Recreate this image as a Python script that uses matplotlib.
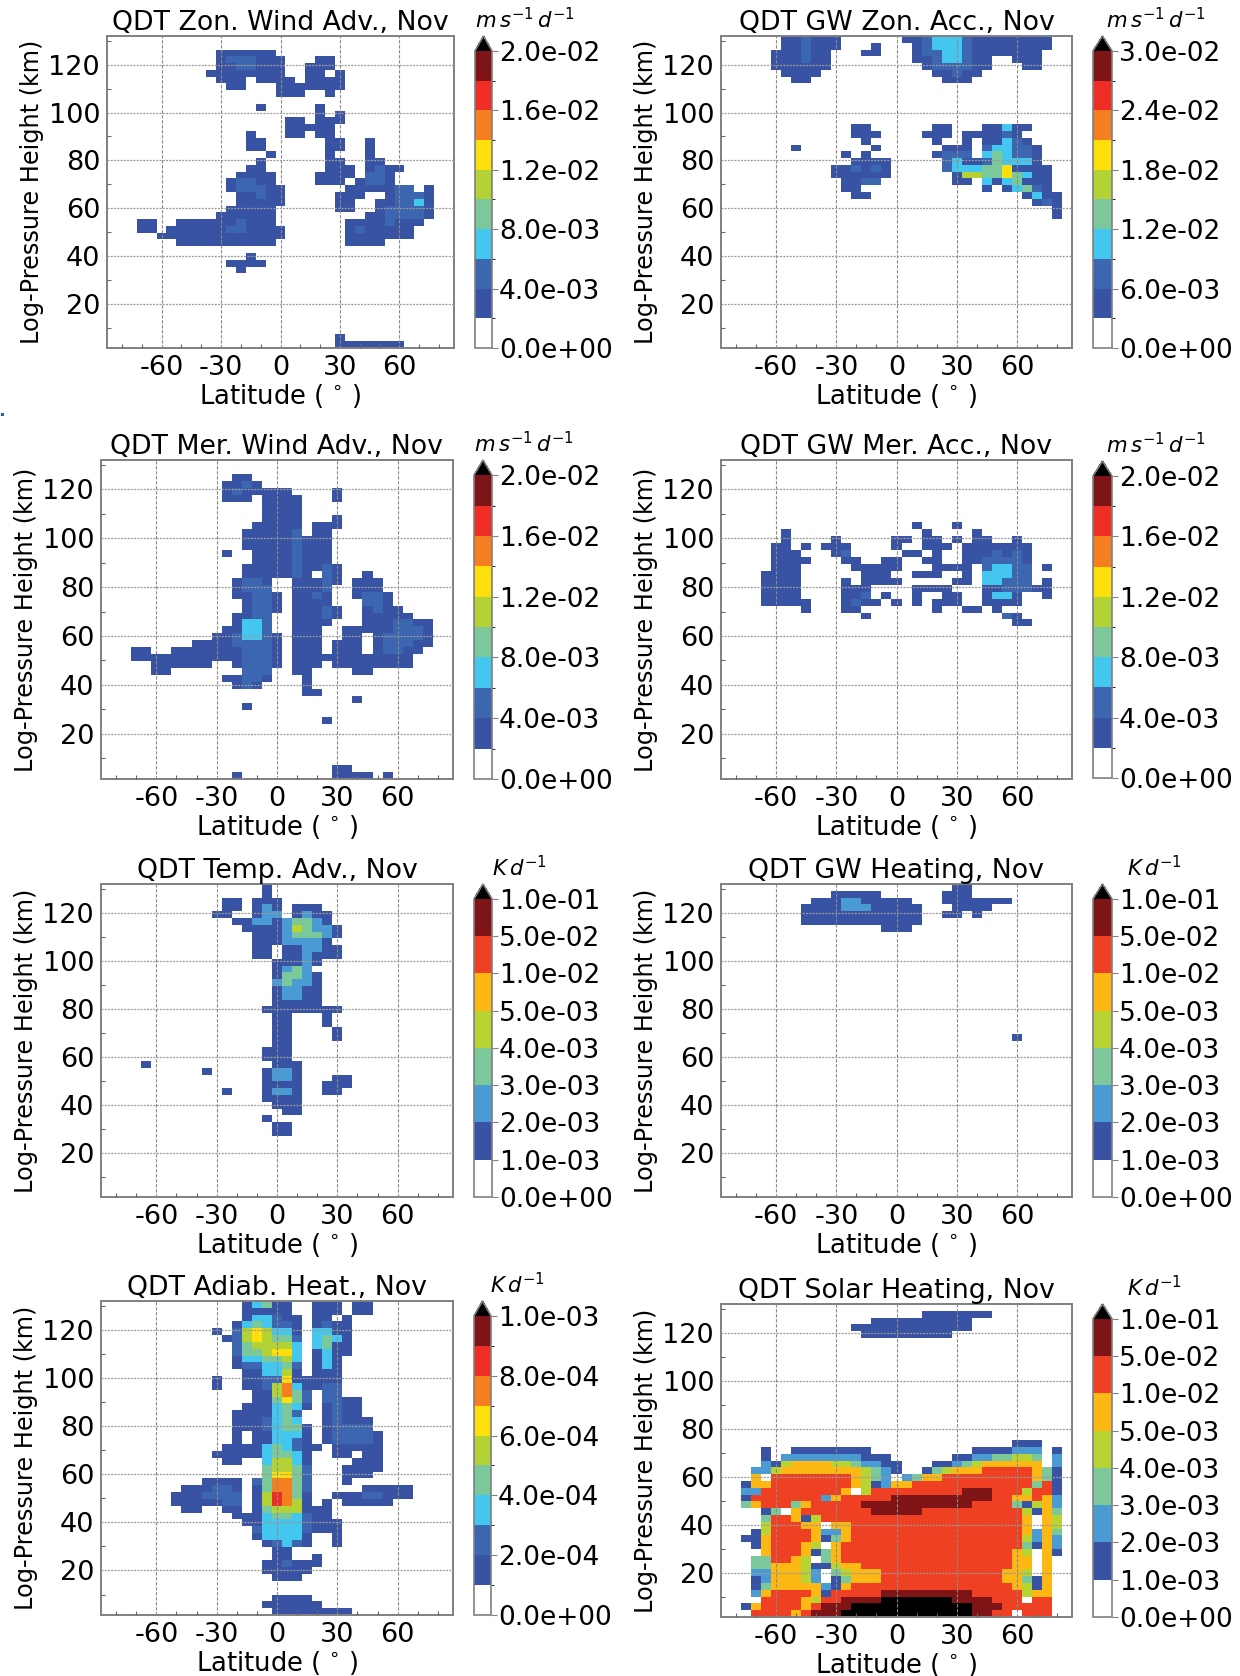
import numpy as np
import matplotlib
matplotlib.use('Agg')
import matplotlib.pyplot as plt
from matplotlib.colors import ListedColormap, BoundaryNorm

W, H = 1240, 1676
plt.rcParams['axes.unicode_minus'] = False

# grid of the model output: cell centres every 5 deg, 46 height rows (row 0 on top)
lat_edges = np.arange(-87.5, 88, 5)
height_edges = np.linspace(132, 1.5, 47)

xticks = [-60, -30, 0, 30, 60]
yticks = [20, 40, 60, 80, 100, 120]

bounds_wind = [i * 2e-3 for i in range(11)]
bounds_gwzon = [i * 3e-3 for i in range(11)]
bounds_heat = [0, 1e-3, 2e-3, 3e-3, 4e-3, 5e-3, 1e-2, 5e-2, 1e-1]
bounds_adiab = [i * 1e-4 for i in range(11)]

colors_10 = ['#ffffff', '#3953a4', '#3c66b0', '#44c7ee', '#7bc89a', '#b2d235',
             '#fde00b', '#f57f20', '#ee2e24', '#7f1416']
colors_8 = ['#ffffff', '#3953a4', '#4a9bd4', '#7bc89a', '#b8d433', '#fdb813',
            '#f04023', '#7f1416']

# row: (lat from, lat to, level); later spans overwrite earlier ones
zon_adv = {
    2: [(-30, -5, 1)],
    3: [(-30, 0, 1), (-25, -15, 2), (20, 25, 1)],
    4: [(-30, 0, 1), (-20, -15, 2), (15, 25, 1)],
    5: [(-35, 0, 1), (15, 20, 1), (30, 30, 1)],
    6: [(-30, -20, 1), (-10, 5, 1), (15, 30, 1)],
    7: [(-25, -20, 1), (0, 30, 1)],
    8: [(0, 10, 1), (25, 25, 1)],
    10: [(-10, -10, 1), (20, 20, 1)],
    11: [(20, 20, 1), (30, 30, 1)],
    12: [(5, 10, 1), (20, 30, 1)],
    13: [(5, 25, 1)],
    14: [(-15, -15, 1), (5, 10, 1), (20, 25, 1)],
    15: [(-15, -10, 1), (25, 30, 1), (45, 45, 1)],
    16: [(-15, -10, 1), (25, 30, 1), (45, 45, 1)],
    17: [(-5, -5, 1), (25, 25, 1), (45, 45, 1)],
    18: [(-10, -10, 1), (25, 30, 1), (45, 50, 1)],
    19: [(-15, -10, 1), (25, 35, 1), (45, 60, 1), (50, 50, 2)],
    20: [(-20, -5, 1), (20, 35, 1), (45, 55, 1), (45, 50, 2)],
    21: [(-25, -5, 1), (-20, -15, 2), (20, 30, 1), (40, 55, 1), (45, 50, 2)],
    22: [(-25, 0, 1), (-20, -10, 2), (35, 55, 1), (60, 65, 2), (75, 75, 1)],
    23: [(-20, 0, 1), (-10, -10, 2), (30, 40, 1), (55, 75, 1), (60, 70, 2)],
    24: [(-20, 0, 1), (30, 35, 1), (50, 75, 1), (60, 65, 2), (70, 70, 3)],
    25: [(-25, -5, 1), (30, 35, 1), (50, 75, 1), (55, 70, 2)],
    26: [(-30, -5, 1), (45, 75, 1), (55, 70, 2)],
    27: [(-70, -65, 1), (-50, -5, 1), (-20, -20, 2), (35, 70, 1), (55, 55, 2)],
    28: [(-70, -65, 1), (-55, 0, 1), (-25, -20, 2), (35, 65, 1), (40, 40, 2)],
    29: [(-60, 0, 1), (35, 65, 1)],
    30: [(-50, -5, 1), (35, 50, 1)],
    32: [(-15, -15, 1)],
    33: [(-25, -10, 1)],
    34: [(-20, -20, 1)],
    44: [(30, 30, 1)],
    45: [(30, 60, 1)],
}

gw_zon = {
    0: [(-55, -30, 1), (-45, -45, 2), (5, 75, 1), (15, 15, 2), (20, 30, 3), (35, 35, 2)],
    1: [(-55, -30, 1), (-45, -45, 2), (-10, -10, 1), (10, 75, 1), (15, 15, 2), (20, 30, 3), (35, 35, 2)],
    2: [(-60, -35, 1), (-45, -45, 2), (-15, -10, 1), (10, 70, 1), (15, 20, 2), (25, 30, 3), (35, 35, 2)],
    3: [(-60, -35, 1), (-45, -45, 2), (10, 45, 1), (60, 70, 1), (20, 20, 2), (25, 30, 3), (35, 35, 2)],
    4: [(-60, -35, 1), (15, 45, 1), (65, 70, 1), (20, 35, 2)],
    5: [(-55, -40, 1), (20, 40, 1), (30, 30, 2)],
    6: [(-50, -45, 1), (25, 35, 1)],
    13: [(-20, -15, 1), (20, 25, 1), (45, 65, 1), (55, 55, 3)],
    14: [(-20, -10, 1), (15, 25, 1), (35, 60, 1), (55, 55, 2)],
    15: [(-15, -15, 1), (20, 20, 1), (35, 35, 1), (45, 65, 1), (55, 55, 3), (60, 60, 2)],
    16: [(-50, -50, 1), (-10, -10, 1), (25, 35, 1), (45, 70, 1), (45, 45, 2), (50, 55, 3), (60, 65, 2)],
    17: [(-25, -25, 1), (-15, -15, 1), (20, 35, 1), (25, 35, 2), (45, 45, 3), (50, 50, 4), (55, 55, 3), (60, 65, 2), (70, 70, 1)],
    18: [(-20, -5, 1), (25, 25, 2), (30, 30, 3), (35, 40, 1), (45, 45, 2), (50, 50, 4), (55, 65, 3), (70, 70, 1)],
    19: [(-30, -5, 1), (-20, -20, 2), (-10, -10, 2), (25, 25, 2), (30, 40, 3), (45, 50, 4), (55, 55, 6), (60, 75, 1)],
    20: [(-30, -5, 1), (30, 30, 1), (35, 40, 5), (45, 50, 4), (55, 55, 6), (60, 60, 4), (65, 65, 3), (70, 75, 1)],
    21: [(-25, -10, 1), (-15, -10, 2), (30, 35, 1), (45, 45, 3), (50, 50, 1), (55, 55, 3), (60, 60, 4), (65, 75, 1)],
    22: [(-25, -20, 1), (45, 45, 1), (55, 55, 1), (60, 60, 3), (65, 65, 4), (70, 70, 2), (75, 75, 1)],
    23: [(-20, -15, 1), (65, 65, 1), (70, 70, 3), (75, 80, 1)],
    24: [(70, 80, 1), (75, 75, 2)],
    25: [(80, 80, 1)],
    26: [(80, 80, 1)],
}

mer_adv = {
    2: [(-20, -15, 1)],
    3: [(-25, -10, 1), (-15, -15, 2)],
    4: [(-25, 5, 1), (-20, -20, 2), (30, 30, 1)],
    5: [(-25, -15, 1), (-5, 10, 1), (30, 30, 1)],
    6: [(-5, 10, 1)],
    7: [(-5, 10, 1)],
    8: [(-5, 10, 1), (30, 30, 1)],
    9: [(-10, 10, 1), (20, 30, 1)],
    10: [(-15, 10, 1), (10, 10, 2), (20, 25, 1)],
    11: [(-15, 25, 1), (10, 10, 2)],
    12: [(-15, 25, 1), (10, 10, 2)],
    13: [(-25, -25, 1), (-10, 25, 1), (10, 10, 2)],
    14: [(-10, 25, 1), (10, 10, 2)],
    15: [(-15, 30, 1), (10, 10, 2), (25, 25, 2)],
    16: [(-15, 15, 1), (10, 10, 2), (25, 30, 1), (25, 25, 2), (45, 45, 1)],
    17: [(-20, -5, 1), (-15, -10, 2), (10, 30, 1), (25, 25, 2), (40, 50, 1)],
    18: [(-20, -5, 1), (-15, -5, 2), (10, 25, 1), (25, 25, 2), (40, 50, 1)],
    19: [(-20, 0, 1), (-10, -5, 2), (10, 25, 1), (20, 20, 2), (40, 55, 1), (45, 50, 2)],
    20: [(-15, 0, 1), (-10, -5, 2), (10, 25, 1), (45, 55, 1), (45, 50, 2)],
    21: [(-15, 0, 1), (-10, -5, 2), (10, 30, 1), (25, 25, 2), (45, 60, 1), (50, 50, 2)],
    22: [(-20, -5, 1), (-10, -5, 2), (10, 30, 1), (25, 25, 2), (45, 65, 1)],
    23: [(-20, -5, 1), (-15, -10, 3), (-5, -5, 2), (10, 25, 1), (45, 75, 1), (60, 65, 2)],
    24: [(-25, -5, 1), (-15, -10, 3), (-5, -5, 2), (10, 20, 1), (35, 75, 1), (60, 70, 2)],
    25: [(-30, 0, 1), (-20, -20, 2), (-15, -10, 3), (-5, -5, 2), (10, 20, 1), (35, 40, 1), (50, 75, 1), (55, 70, 2)],
    26: [(-40, 0, 1), (-20, -5, 2), (10, 20, 1), (30, 40, 1), (50, 75, 1), (55, 65, 2)],
    27: [(-70, -65, 1), (-50, 0, 1), (-15, -5, 2), (10, 20, 1), (30, 40, 1), (50, 70, 1), (55, 60, 2)],
    28: [(-70, 0, 1), (-15, -5, 2), (10, 65, 1)],
    29: [(-60, -35, 1), (-20, 0, 1), (-15, -5, 2), (10, 20, 1), (30, 65, 1)],
    30: [(-60, -55, 1), (-15, -5, 2), (10, 15, 1), (40, 45, 1)],
    31: [(-25, -5, 1), (-15, -10, 2), (15, 15, 1)],
    32: [(-20, -10, 1), (-15, -15, 2), (15, 15, 1)],
    33: [(15, 20, 1)],
    34: [(40, 40, 1)],
    35: [(-15, -15, 1)],
    37: [(25, 25, 1)],
    44: [(30, 35, 1)],
    45: [(-20, -20, 1), (30, 45, 1), (55, 55, 1)],
}

gw_mer = {
    9: [(10, 10, 1), (30, 30, 1)],
    10: [(-55, -55, 1), (15, 15, 1), (40, 40, 1)],
    11: [(-55, -55, 1), (-30, -30, 1), (0, 5, 1), (15, 20, 1), (30, 30, 1), (40, 45, 1), (60, 60, 1)],
    12: [(-60, -55, 1), (-45, -45, 1), (-35, -25, 1), (0, 0, 1), (15, 25, 1), (35, 65, 1)],
    13: [(-60, -50, 1), (-30, -25, 1), (-25, -25, 2), (5, 10, 1), (20, 20, 1), (35, 65, 1), (50, 50, 2), (60, 60, 2)],
    14: [(-60, -45, 1), (-25, -20, 1), (-5, 0, 1), (15, 20, 1), (35, 65, 1), (45, 60, 2)],
    15: [(-60, -50, 1), (-20, 0, 1), (20, 35, 1), (45, 65, 2), (50, 55, 3), (75, 75, 1)],
    16: [(-65, -50, 1), (-15, -5, 1), (10, 20, 1), (35, 35, 1), (45, 55, 3), (60, 65, 2)],
    17: [(-65, -50, 1), (-25, -25, 1), (-15, 0, 1), (30, 35, 1), (45, 50, 3), (55, 65, 2), (75, 75, 1)],
    18: [(-65, -50, 1), (-25, -15, 1), (10, 25, 1), (45, 75, 1), (55, 65, 2)],
    19: [(-65, -50, 1), (-25, -15, 1), (-15, -15, 2), (-5, -5, 1), (10, 10, 1), (25, 30, 1), (45, 60, 1), (50, 55, 3), (75, 75, 1)],
    20: [(-65, -45, 1), (-25, -10, 1), (-20, -20, 2), (0, 0, 1), (10, 10, 1), (20, 20, 1), (25, 30, 1), (45, 60, 1)],
    21: [(-45, -45, 1), (-25, -20, 1), (20, 20, 1), (35, 40, 1), (50, 50, 1)],
    22: [(-15, -15, 1), (55, 60, 1), (55, 55, 2)],
    23: [(60, 65, 1)],
}

temp_adv = {
    0: [(-5, -5, 1)],
    1: [(-5, -5, 1)],
    2: [(-25, -20, 1), (-10, 0, 1)],
    3: [(-25, -20, 1), (-10, 0, 1), (-5, -5, 2), (10, 20, 1)],
    4: [(-30, -25, 1), (-10, 0, 1), (-5, 0, 2), (10, 25, 1), (15, 15, 2)],
    5: [(-20, -15, 1), (-10, -5, 2), (0, 0, 1), (5, 5, 2), (10, 15, 3), (20, 20, 2), (25, 25, 1)],
    6: [(-15, 0, 1), (5, 5, 2), (10, 10, 4), (15, 15, 3), (20, 25, 2), (30, 30, 1)],
    7: [(-10, 0, 1), (5, 5, 2), (10, 20, 3), (25, 25, 2), (30, 30, 1)],
    8: [(-10, 0, 1), (5, 20, 2), (25, 25, 1)],
    9: [(-10, -5, 1), (5, 10, 1), (15, 20, 2), (25, 30, 1)],
    10: [(-10, -5, 1), (5, 10, 1), (15, 15, 2), (20, 30, 1)],
    11: [(0, 10, 1), (15, 15, 2), (20, 20, 1)],
    12: [(0, 0, 1), (5, 5, 2), (10, 10, 3), (15, 15, 2)],
    13: [(0, 0, 1), (5, 10, 3), (15, 15, 2), (20, 20, 1)],
    14: [(0, 0, 2), (5, 5, 3), (10, 15, 2), (20, 20, 1)],
    15: [(0, 0, 1), (5, 10, 2), (15, 20, 1)],
    16: [(0, 0, 1), (5, 10, 2), (15, 20, 1)],
    17: [(0, 20, 1)],
    18: [(-5, 30, 1)],
    19: [(0, 5, 1), (25, 25, 1)],
    20: [(0, 5, 1), (25, 25, 1)],
    21: [(0, 5, 1), (30, 30, 1)],
    22: [(0, 5, 1), (30, 30, 1)],
    23: [(0, 5, 1)],
    24: [(-5, 5, 1)],
    25: [(-5, 5, 1)],
    26: [(-65, -65, 1), (0, 10, 1)],
    27: [(-35, -35, 1), (-5, 10, 1), (0, 5, 2)],
    28: [(-5, 10, 1), (0, 5, 2), (30, 35, 1)],
    29: [(-5, 10, 1), (25, 35, 1)],
    30: [(-25, -25, 1), (-5, 10, 1), (0, 5, 2), (25, 30, 1)],
    31: [(-5, 10, 1)],
    32: [(0, 10, 1)],
    33: [(5, 10, 1)],
    34: [(-5, -5, 1)],
    35: [(0, 5, 1)],
    36: [(0, 5, 1)],
}

gw_heat = {
    0: [(30, 35, 1)],
    1: [(-30, -10, 1), (25, 35, 1)],
    2: [(-40, 5, 1), (-25, -20, 2), (25, 55, 1)],
    3: [(-45, 10, 1), (-25, -15, 2), (30, 45, 1)],
    4: [(-45, 10, 1), (25, 30, 1), (40, 40, 1)],
    5: [(-45, 10, 1)],
    6: [(-5, 5, 1)],
    22: [(60, 60, 1)],
}

adiab = {
    0: [(-15, -15, 1), (-10, -10, 3), (-5, -5, 4), (0, 5, 1), (20, 30, 1), (40, 45, 1)],
    1: [(-15, 5, 1), (20, 30, 1), (40, 45, 1)],
    2: [(-15, -15, 1), (-10, -5, 3), (0, 10, 1), (0, 0, 2), (20, 25, 1), (35, 35, 1)],
    3: [(-20, -20, 1), (-15, -15, 3), (-10, -10, 4), (-5, -5, 3), (0, 5, 2), (10, 10, 1), (20, 35, 1), (25, 25, 2)],
    4: [(-30, -30, 1), (-20, -20, 2), (-15, -15, 5), (-10, -10, 6), (-5, -5, 5), (0, 5, 3), (10, 10, 1), (20, 25, 3), (30, 35, 1)],
    5: [(-25, -25, 1), (-20, -20, 2), (-15, -15, 5), (-10, -10, 6), (-5, -5, 5), (0, 5, 4), (10, 10, 2), (20, 20, 3), (25, 25, 4), (30, 30, 3), (35, 35, 1)],
    6: [(-20, -20, 2), (-15, -15, 4), (-10, 5, 5), (10, 10, 3), (20, 20, 3), (25, 25, 4), (30, 35, 1)],
    7: [(-20, -20, 2), (-15, -10, 4), (-5, -5, 5), (0, 5, 6), (10, 10, 3), (20, 20, 1), (25, 25, 3), (30, 35, 1)],
    8: [(-20, -20, 1), (-15, -10, 3), (-5, 0, 4), (5, 5, 5), (10, 10, 3), (20, 20, 1), (25, 25, 3), (30, 30, 1)],
    9: [(-20, -20, 1), (-15, -10, 2), (-5, 0, 3), (5, 5, 4), (10, 10, 2), (20, 20, 1), (25, 25, 3), (30, 30, 1)],
    10: [(-15, -10, 1), (-5, 0, 3), (5, 5, 5), (10, 10, 1), (20, 30, 1)],
    11: [(-30, -30, 1), (-15, -10, 1), (-5, 0, 2), (5, 5, 6), (10, 30, 1)],
    12: [(-30, -30, 1), (-15, -10, 1), (-5, -5, 2), (0, 0, 5), (5, 5, 7), (10, 10, 3), (15, 20, 1), (25, 30, 2)],
    13: [(-10, -5, 1), (0, 0, 5), (5, 5, 7), (10, 10, 4), (15, 15, 2), (25, 30, 2)],
    14: [(-10, -5, 1), (0, 0, 4), (5, 5, 6), (10, 10, 4), (15, 15, 2), (25, 30, 2), (35, 40, 1)],
    15: [(-15, -5, 1), (0, 0, 3), (5, 5, 4), (10, 10, 3), (15, 15, 1), (25, 25, 1), (30, 30, 2), (35, 40, 1)],
    16: [(-20, -5, 1), (0, 0, 3), (5, 5, 4), (10, 10, 2), (25, 25, 1), (30, 30, 2), (35, 40, 1)],
    17: [(-20, -5, 1), (-5, -5, 2), (0, 0, 3), (5, 5, 4), (10, 10, 3), (25, 25, 1), (30, 30, 2), (35, 45, 1)],
    18: [(-20, -5, 1), (-5, -5, 2), (0, 0, 3), (5, 10, 4), (15, 15, 1), (25, 25, 1), (30, 45, 2)],
    19: [(-20, -20, 1), (-10, -5, 1), (0, 10, 3), (15, 15, 1), (25, 25, 1), (30, 45, 2), (50, 50, 1)],
    20: [(-20, -20, 1), (-10, -5, 1), (0, 5, 3), (10, 10, 2), (15, 15, 1), (25, 25, 1), (30, 45, 2), (50, 50, 1)],
    21: [(-25, -10, 1), (-5, -5, 3), (0, 0, 4), (5, 5, 3), (10, 10, 2), (15, 20, 1), (30, 50, 1)],
    22: [(-30, -10, 1), (-5, -5, 3), (0, 5, 4), (10, 10, 3), (15, 15, 1), (30, 35, 1), (45, 50, 1)],
    23: [(-25, -20, 1), (-5, -5, 3), (0, 5, 5), (10, 10, 3), (15, 15, 1), (40, 50, 1)],
    24: [(-5, -5, 4), (0, 5, 5), (10, 10, 4), (15, 15, 2), (35, 50, 1)],
    25: [(-5, -5, 4), (0, 5, 6), (10, 10, 4), (15, 15, 2), (35, 45, 1)],
    26: [(-35, -20, 1), (-10, -10, 2), (-5, -5, 4), (0, 5, 7), (10, 10, 4), (15, 15, 2), (35, 35, 1)],
    27: [(-45, -20, 1), (-30, -25, 2), (-10, -10, 1), (-5, -5, 4), (0, 5, 7), (10, 10, 4), (15, 15, 2), (45, 65, 1)],
    28: [(-50, -20, 1), (-35, -20, 2), (-10, -10, 1), (-5, -5, 5), (0, 0, 8), (5, 5, 7), (10, 10, 4), (15, 15, 1), (30, 65, 1), (45, 50, 2)],
    29: [(-50, -20, 1), (-25, -20, 2), (-10, -10, 1), (-5, -5, 5), (0, 0, 8), (5, 5, 7), (10, 10, 5), (15, 15, 1), (25, 25, 1), (35, 55, 1)],
    30: [(-45, -40, 1), (-25, -20, 1), (-10, -10, 1), (-5, -5, 4), (0, 10, 5), (15, 25, 1)],
    31: [(-20, -10, 1), (-5, -5, 3), (0, 5, 4), (10, 10, 3), (15, 15, 2), (20, 25, 1)],
    32: [(-15, -10, 1), (-5, 10, 3), (15, 15, 2), (20, 30, 1)],
    33: [(-10, -10, 2), (-5, 10, 3), (15, 15, 2), (20, 30, 1)],
    34: [(-10, -10, 1), (-5, 10, 3), (15, 15, 1), (30, 30, 1)],
    35: [(-5, -5, 1), (0, 0, 2), (5, 5, 3), (10, 10, 2), (15, 15, 1), (30, 30, 1)],
    36: [(0, 5, 1)],
    37: [(0, 5, 1), (20, 20, 1)],
    38: [(-5, 20, 1), (5, 5, 2)],
    39: [(-5, 15, 1)],
    40: [(0, 10, 1)],
    43: [(0, 15, 1)],
    44: [(-5, 20, 1)],
    45: [(0, 35, 1)],
}

solar = {
    1: [(15, 45, 1)],
    2: [(-10, 35, 1)],
    3: [(-20, 35, 1)],
    4: [(-15, 25, 1)],
    20: [(60, 70, 1)],
    21: [(-65, -65, 1), (-50, -15, 1), (40, 55, 1), (60, 70, 2), (80, 80, 1)],
    22: [(-65, -65, 1), (-55, -20, 2), (-15, -5, 1), (30, 35, 1), (40, 45, 2), (50, 55, 3), (60, 65, 4), (70, 70, 3), (80, 80, 2)],
    23: [(-65, -65, 2), (-60, -60, 1), (-55, -55, 4), (-50, -35, 5), (-30, -25, 4), (-20, -20, 3), (-15, -10, 2), (-5, 0, 1),
         (20, 25, 1), (30, 30, 2), (35, 35, 3), (40, 40, 4), (45, 70, 5), (80, 80, 2)],
    24: [(-70, -65, 2), (-60, -60, 4), (-55, -20, 5), (-15, -15, 4), (-10, -10, 3), (-5, -5, 2), (0, 0, 1), (15, 15, 1),
         (20, 20, 3), (25, 25, 4), (30, 40, 5), (45, 65, 6), (70, 70, 5), (75, 75, 3), (80, 80, 1)],
    25: [(-70, -70, 5), (-60, -25, 6), (-20, -20, 5), (-15, -15, 4), (-10, -10, 3), (-5, -5, 2), (5, 5, 2), (10, 10, 3),
         (15, 20, 5), (25, 65, 6), (70, 70, 5), (75, 75, 3), (80, 80, 1)],
    26: [(-75, -75, 1), (-70, -65, 5), (-60, -25, 6), (-20, -20, 5), (-15, -15, 4), (-10, -10, 1), (-5, -5, 2), (0, 5, 5),
         (10, 65, 6), (70, 70, 3), (75, 75, 6), (80, 80, 1)],
    27: [(-75, -70, 2), (-65, -30, 6), (-25, -25, 5), (-15, -15, 4), (-10, 30, 6), (35, 45, 7), (50, 60, 6), (65, 65, 4),
         (70, 75, 6), (80, 80, 1)],
    28: [(-75, -75, 1), (-70, -40, 6), (-35, -35, 2), (-30, -30, 5), (-25, -5, 6), (0, 45, 7), (50, 55, 6), (60, 65, 5),
         (70, 70, 6), (75, 75, 5), (80, 80, 2)],
    29: [(-75, -75, 3), (-70, -70, 5), (-65, -55, 6), (-50, -50, 3), (-45, -45, 5), (-40, -20, 6), (-15, 35, 7), (40, 55, 6),
         (60, 60, 3), (65, 65, 1), (70, 70, 4), (75, 75, 5), (80, 80, 2)],
    30: [(-65, -65, 1), (-60, -60, 3), (-50, -50, 5), (-45, -15, 6), (-10, 10, 7), (15, 60, 6), (65, 65, 4), (70, 70, 1),
         (75, 75, 5), (80, 80, 3)],
    31: [(-65, -65, 3), (-60, -55, 6), (-50, -50, 5), (-45, -45, 1), (-40, -40, 4), (-35, 60, 6), (65, 65, 5), (75, 75, 5),
         (80, 80, 4)],
    32: [(-65, -65, 4), (-60, -50, 6), (-45, -40, 5), (-30, -25, 5), (-20, 60, 6), (65, 65, 5), (75, 75, 5), (80, 80, 4)],
    33: [(-70, -70, 1), (-65, -65, 4), (-60, -45, 6), (-40, -40, 5), (-35, -30, 2), (-25, -25, 5), (-20, 60, 6), (65, 65, 5),
         (70, 70, 2), (75, 75, 5), (80, 80, 3)],
    34: [(-75, -70, 1), (-65, -65, 5), (-60, -45, 6), (-40, -40, 5), (-35, -35, 1), (-30, -30, 3), (-25, -25, 5), (-20, 60, 6),
         (65, 65, 4), (70, 70, 2), (75, 75, 5), (80, 80, 2)],
    35: [(-70, -70, 1), (-65, -65, 5), (-60, -50, 6), (-45, -45, 5), (-40, -40, 4), (-30, -30, 5), (-25, 60, 6), (65, 65, 3),
         (70, 70, 1), (75, 75, 5), (80, 80, 2)],
    36: [(-65, -65, 5), (-60, -50, 6), (-45, -45, 5), (-40, -40, 1), (-35, -35, 3), (-30, -30, 5), (-25, 55, 6), (60, 60, 5),
         (65, 65, 4), (75, 75, 5), (80, 80, 1)],
    37: [(-70, -65, 3), (-60, -55, 6), (-50, -50, 5), (-45, -45, 4), (-35, -35, 3), (-30, -30, 5), (-25, 55, 6), (60, 65, 5),
         (75, 75, 5)],
    38: [(-70, -65, 3), (-60, -50, 5), (-45, -45, 4), (-40, -35, 1), (-30, -30, 4), (-25, -20, 5), (-15, 55, 6), (60, 65, 5),
         (75, 75, 5)],
    39: [(-70, -65, 2), (-60, -50, 5), (-45, -45, 4), (-40, -40, 2), (-30, -30, 3), (-25, -25, 4), (-20, -10, 5), (-5, 50, 6),
         (55, 60, 5), (65, 65, 4), (75, 75, 5)],
    40: [(-70, -70, 1), (-65, -65, 2), (-60, -50, 5), (-45, -45, 4), (-40, -40, 2), (-30, -30, 1), (-25, -25, 3), (-20, -10, 5),
         (-5, 50, 6), (55, 60, 5), (65, 65, 3), (70, 70, 1), (75, 75, 5)],
    41: [(-70, -70, 1), (-65, -65, 3), (-60, -40, 5), (-35, -35, 2), (-30, -30, 1), (-25, -25, 5), (-20, 55, 6), (60, 60, 5),
         (65, 65, 4), (70, 70, 1), (75, 75, 5)],
    42: [(-70, -70, 2), (-65, -65, 5), (-60, -45, 6), (-40, -40, 5), (-35, -35, 1), (-30, -10, 6), (-5, 35, 7), (40, 60, 6),
         (65, 65, 4), (70, 75, 5)],
    43: [(-65, -50, 6), (-45, -45, 5), (-40, -40, 4), (-35, -30, 6), (-25, -10, 7), (-5, 25, 8), (30, 45, 7), (50, 60, 6),
         (70, 75, 6)],
    44: [(-75, -75, 1), (-70, -70, 5), (-65, -50, 6), (-45, -45, 5), (-40, -40, 6), (-35, -25, 7), (-20, 35, 8), (40, 50, 7),
         (55, 75, 6)],
    45: [(-70, -55, 6), (-50, -50, 5), (-45, -45, 6), (-40, -30, 7), (-25, 35, 8), (40, 45, 7), (50, 55, 6), (65, 75, 6)],
}

unit_wind = r'$m\,s^{-1}\,d^{-1}$'
unit_heat = r'$K\,d^{-1}$'

# title, cells, bounds, tick step, colours, unit, axes box, colourbar box (pixels: left, right, tip, bottom), unit x
panels = [
    ('QDT Zon. Wind Adv., Nov', zon_adv, bounds_wind, 2, colors_10, unit_wind, (107, 454, 36, 348), (475, 492, 36, 348), 525),
    ('QDT GW Zon. Acc., Nov', gw_zon, bounds_gwzon, 2, colors_10, unit_wind, (721, 1072, 36, 348), (1093, 1112, 36, 348), 1156),
    ('QDT Mer. Wind Adv., Nov', mer_adv, bounds_wind, 2, colors_10, unit_wind, (101, 453, 460, 779), (474, 492, 460, 779), 524),
    ('QDT GW Mer. Acc., Nov', gw_mer, bounds_wind, 2, colors_10, unit_wind, (721, 1072, 460, 779), (1093, 1112, 461, 778), 1156),
    ('QDT Temp. Adv., Nov', temp_adv, bounds_heat, 1, colors_8, unit_heat, (101, 453, 884, 1197), (474, 492, 884, 1197), 520),
    ('QDT GW Heating, Nov', gw_heat, bounds_heat, 1, colors_8, unit_heat, (721, 1072, 884, 1197), (1093, 1112, 884, 1197), 1155),
    ('QDT Adiab. Heat., Nov', adiab, bounds_adiab, 2, colors_10, unit_heat, (101, 453, 1301, 1615), (474, 491, 1301, 1615), 518),
    ('QDT Solar Heating, Nov', solar, bounds_heat, 1, colors_8, unit_heat, (721, 1072, 1304, 1617), (1093, 1112, 1304, 1617), 1155),
]


def make_grid(cells, bounds):
    # a level stands for the middle of its colour band, the top level past the end is "over"
    b = np.array(bounds)
    values = np.append(0.5 * (b[:-1] + b[1:]), b[-1] * 2)
    z = np.zeros((len(height_edges) - 1, len(lat_edges) - 1))
    for row, spans in cells.items():
        for lat0, lat1, level in spans:
            i0 = int((lat0 + 85) / 5)
            i1 = int((lat1 + 85) / 5)
            z[row, i0:i1 + 1] = values[level]
    return z


def box(left, right, top, bottom):
    return [left / W, 1 - bottom / H, (right - left) / W, (bottom - top) / H]


fig = plt.figure(figsize=(W / 100, H / 100), dpi=100)
edge = '#808080'

for title, cells, bounds, step, colors, unit, ax_box, cb_box, unit_x in panels:
    ax = fig.add_axes(box(*ax_box))
    cmap = ListedColormap(colors).with_extremes(over='black')
    norm = BoundaryNorm(bounds, cmap.N)
    mesh = ax.pcolormesh(lat_edges, height_edges, make_grid(cells, bounds), cmap=cmap, norm=norm)
    ax.set_xlim(-87.5, 87.5)
    ax.set_ylim(1.5, 132)
    ax.set_xticks(xticks)
    ax.set_yticks(yticks)
    ax.set_xticks(np.arange(-80, 81, 10), minor=True)
    ax.set_yticks(np.arange(10, 131, 10), minor=True)
    ax.tick_params(which='major', direction='in', length=0, labelsize=19.5, pad=5)
    ax.tick_params(which='minor', direction='in', length=3, width=0.8, color='#666666')
    ax.xaxis.grid(True, which='major', color='#8a8a8a', linestyle=(0, (3, 1.5)), linewidth=0.8)
    ax.yaxis.grid(True, which='major', color='#9a9a9a', linestyle=(0, (1.6, 1)), linewidth=0.9)
    ax.set_axisbelow(False)
    for sp in ax.spines.values():
        sp.set_color(edge)
        sp.set_linewidth(1.4)
    ax.set_title(title, fontsize=19.3, pad=4)
    ax.set_xlabel(r'Latitude ($\,^\circ\,$)', fontsize=18.6, labelpad=1)
    ax.set_ylabel('Log-Pressure Height (km)', fontsize=17.3, labelpad=3)

    cax = fig.add_axes(box(*cb_box))
    cb = fig.colorbar(mesh, cax=cax, extend='max', extendfrac=0.05, spacing='uniform',
                      ticks=bounds[::step], drawedges=False)
    cb.ax.set_yticklabels(['%.1e' % v for v in bounds[::step]])
    cb.ax.tick_params(labelsize=19, length=4, color=edge, pad=1)
    cb.outline.set_edgecolor(edge)
    cb.outline.set_linewidth(1.2)
    fig.text(unit_x / W, 1 - (cb_box[2] - 16) / H, unit, fontsize=15.3, ha='center', va='center')

fig.text(2 / W, 1 - 416 / H, '.', color='#3a5a8c', fontsize=13, fontweight='bold', ha='center', va='baseline')
fig.savefig('out.png', dpi=100)
